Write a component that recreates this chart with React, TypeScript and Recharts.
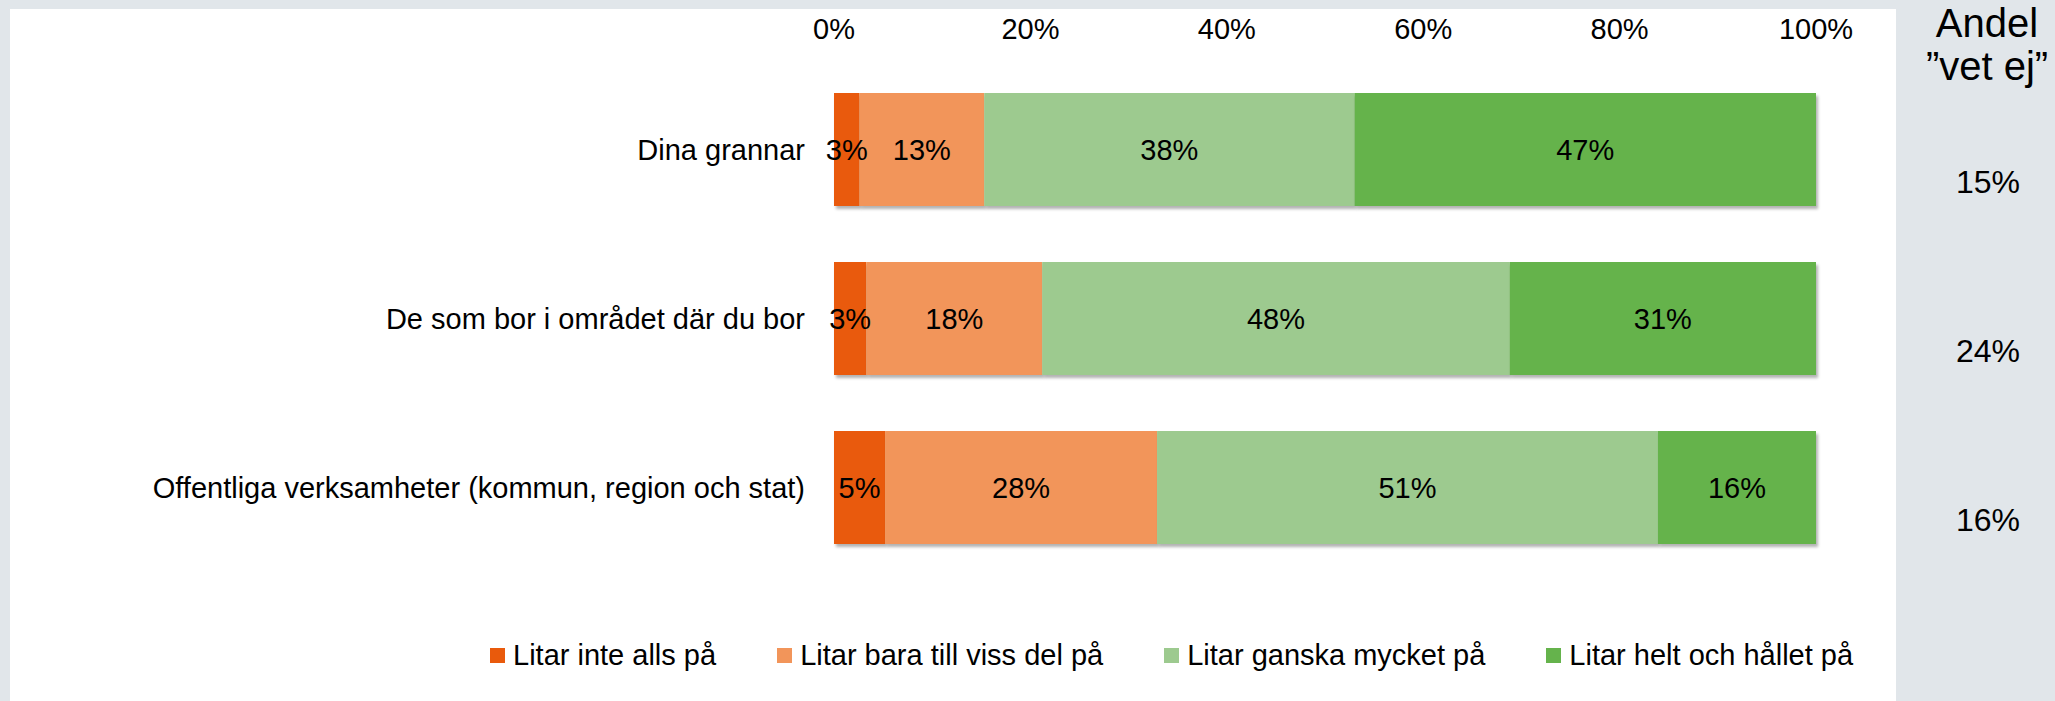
import React from 'react';
import { BarChart, Bar, XAxis, YAxis, Legend, LabelList } from 'recharts';

const categories = [
  'Dina grannar',
  'De som bor i området där du bor',
  'Offentliga verksamheter (kommun, region och stat)',
];
const litarInteAlls = [2.6, 3.3, 5.2];
const litarTillVissDel = [12.7, 17.9, 27.7];
const litarGanskaMycket = [37.7, 47.6, 51.0];
const litarHeltOchHallet = [47.0, 31.2, 16.1];
const andelVetEj = ['15%', '24%', '16%'];
const xTicks = [0, 20, 40, 60, 80, 100];

const seriesKeys = ['inte', 'viss', 'ganska', 'helt'];
const seriesNames = [
  'Litar inte alls på',
  'Litar bara till viss del på',
  'Litar ganska mycket på',
  'Litar helt och hållet på',
];
const seriesColors = ['#E95A0C', '#F2955A', '#9DCA8F', '#65B34C'];
const seriesValues = [litarInteAlls, litarTillVissDel, litarGanskaMycket, litarHeltOchHallet];

const data = categories.map((name, i) => {
  const row: Record<string, string | number> = { name, vetEj: andelVetEj[i] };
  seriesKeys.forEach((k, s) => {
    row[k] = seriesValues[s][i];
  });
  return row;
});

const FONT = "'Liberation Sans', Arial, sans-serif";

const ShadowRect = (props: any) => {
  const { x, y, width, height, fill } = props;
  return <rect x={x} y={y} width={width} height={height} fill={fill} filter="url(#barShadow)" />;
};

const LegendContent = (props: any) => {
  const items = [...(props.payload || [])].sort(
    (a: any, b: any) => seriesNames.indexOf(a.value) - seriesNames.indexOf(b.value)
  );
  return (
    <div style={{ display: 'flex', alignItems: 'center', fontFamily: FONT, fontSize: 29, color: '#000', whiteSpace: 'nowrap' }}>
      {items.map((p: any, i: number) => (
        <div key={i} style={{ display: 'flex', alignItems: 'center', marginRight: i < items.length - 1 ? 61 : 0 }}>
          <div style={{ width: 15, height: 15, background: p.color, marginRight: 8 }} />
          <span>{p.value}</span>
        </div>
      ))}
    </div>
  );
};

const RightTick = (props: any) => {
  const { x, y, payload } = props;
  return (
    <text x={x + 172} y={y + 43} textAnchor="middle" fontFamily={FONT} fontSize={32} fill="#000">
      {payload.value}
    </text>
  );
};

export default function App() {
  return (
    <div style={{ position: 'absolute', left: 0, top: 0, width: 2055, height: 701, background: '#E1E6EA', overflow: 'hidden' }}>
      <svg width={0} height={0} style={{ position: 'absolute' }}>
        <defs>
          <filter id="barShadow" x="-10%" y="-10%" width="130%" height="130%">
            <feDropShadow dx={2} dy={3} stdDeviation={1.5} floodColor="#000" floodOpacity={0.3} />
          </filter>
        </defs>
      </svg>
      <div style={{ position: 'absolute', left: 10, top: 9, width: 1886, height: 692, background: '#FFFFFF' }} />
      <svg width={2055} height={701} style={{ position: 'absolute', left: 0, top: 0 }}>
        <text x={1987} y={37} textAnchor="middle" fontFamily={FONT} fontSize={40} fill="#000">Andel</text>
        <text x={1987} y={80} textAnchor="middle" fontFamily={FONT} fontSize={40} fill="#000">”vet ej”</text>
      </svg>
      <div style={{ position: 'absolute', left: 0, top: 0 }}>
        <BarChart
          width={2055}
          height={701}
          data={data}
          layout="vertical"
          margin={{ top: 0, right: 0, bottom: 129, left: 0 }}
          barSize={113}
        >
          <XAxis
            type="number"
            orientation="top"
            domain={[0, 100]}
            ticks={xTicks}
            tickFormatter={(v: number) => `${v}%`}
            axisLine={false}
            tickLine={false}
            tickSize={0}
            tickMargin={26}
            height={65}
            interval={0}
            tick={{ fontFamily: FONT, fontSize: 29, fill: '#000' }}
          />
          <YAxis
            yAxisId="left"
            type="category"
            dataKey="name"
            width={834}
            axisLine={false}
            tickLine={false}
            tickSize={0}
            tickMargin={29}
            interval={0}
            tick={{ fontFamily: FONT, fontSize: 29, fill: '#000' }}
          />
          <YAxis
            yAxisId="right"
            orientation="right"
            type="category"
            dataKey="vetEj"
            width={239}
            axisLine={false}
            tickLine={false}
            tickSize={0}
            tickMargin={0}
            interval={0}
            tick={<RightTick />}
          />
          {seriesKeys.map((k, s) => (
            <Bar
              key={k}
              yAxisId="left"
              dataKey={k}
              name={seriesNames[s]}
              stackId="a"
              fill={seriesColors[s]}
              isAnimationActive={false}
              shape={<ShadowRect />}
            >
              <LabelList
                dataKey={k}
                position="center"
                formatter={(v: any) => `${Math.round(Number(v))}%`}
                style={{ fontFamily: FONT, fontSize: 29, fill: '#000' }}
              />
            </Bar>
          ))}
          <Legend
            layout="horizontal"
            verticalAlign="middle"
            align="center"
            content={<LegendContent />}
            wrapperStyle={{ left: 490, top: 639, width: 1400, height: 34 }}
          />
        </BarChart>
      </div>
    </div>
  );
}
